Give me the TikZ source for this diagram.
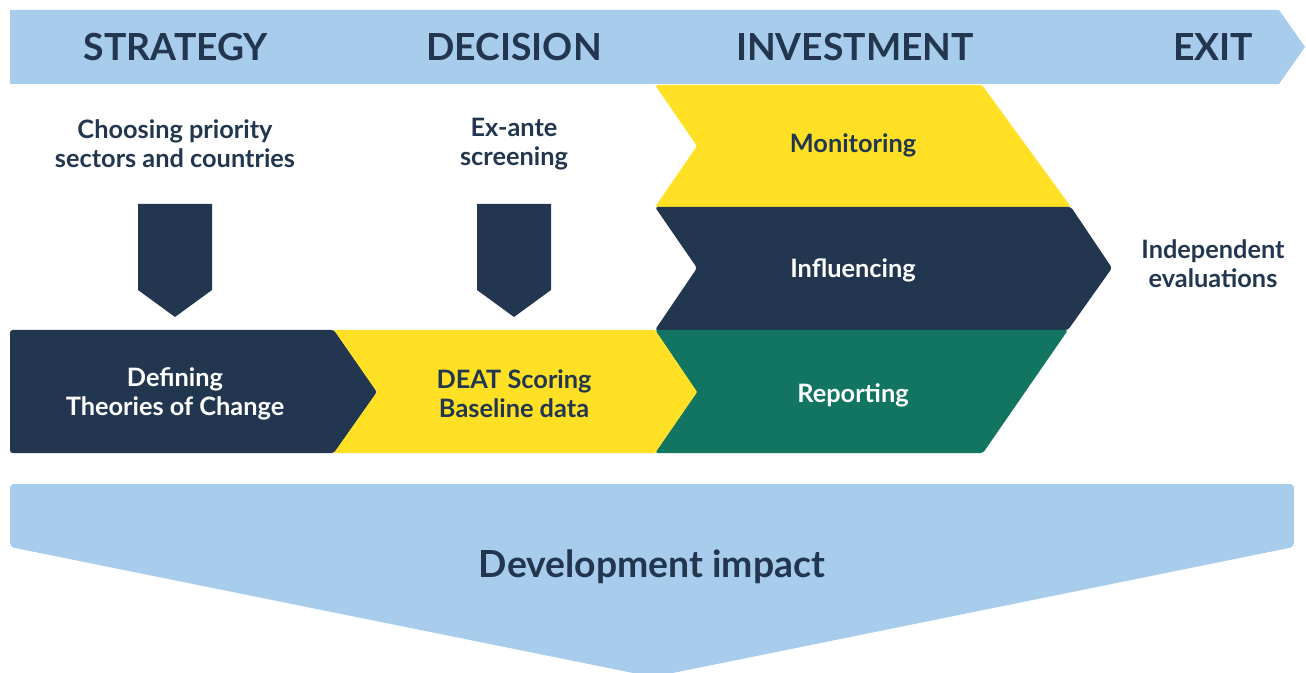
\documentclass[tikz,border=0pt]{standalone}
\usepackage{fontspec}
\setmainfont{Lato}
\definecolor{skyband}{HTML}{A8CCEC}
\definecolor{navy}{HTML}{22374F}
\definecolor{gold}{HTML}{FFE024}
\definecolor{teal}{HTML}{117562}

\begin{document}
\begin{tikzpicture}[x=0.75pt,y=-0.75pt,
	phasetext/.style={text=navy,font=\bfseries\fontsize{28}{32}\selectfont},
	darktext/.style={text=navy,align=center,font=\bfseries\fontsize{19}{21.75}\selectfont},
	lighttext/.style={text=white,align=center,font=\bfseries\fontsize{19}{21.75}\selectfont}]
		\clip (0,0) rectangle (1306,673);
		% phases banner
		\fill[skyband] (10,10) -- (1279,10) -- (1305,47) -- (1279,84) -- (10,84) -- cycle;
		\node[phasetext] (strategy) at (176,47) {STRATEGY};
		\node[phasetext] (decision) at (514,47) {DECISION};
		\node[phasetext] (investment) at (855,47) {INVESTMENT};
		\node[phasetext] (exit) at (1213,47) {EXIT};
		% investment chevrons
		\fill[gold, rounded corners=2] (655,85) -- (982,85) -- (1071,207)
			-- (655,207) -- (697,146) -- cycle;
		\fill[navy, rounded corners=2] (655,207) -- (1071,207) -- (1112,268)
			-- (1068,330) -- (655,330) -- (697,268) -- cycle;
		\fill[teal, rounded corners=2] (655,330) -- (1068,330) -- (983,453)
			-- (655,453) -- (697,392) -- cycle;
		% strategy and decision
		\fill[navy, rounded corners=2] (10,330) -- (334,330) -- (377,392)
			-- (334,453) -- (10,453) -- cycle;
		\fill[gold] (334,330) -- (655,330) -- (697,392)
			-- (655,453) -- (334,453) -- (377,392) -- cycle;
		\fill[navy] (138,204) -- (212,204) -- (212,290) -- (175,317) -- (138,290) -- cycle;
		\fill[navy] (477,204) -- (551,204) -- (551,290) -- (514,317) -- (477,290) -- cycle;
		% impact
		\fill[skyband, rounded corners=3] (10,484) -- (1294,484) -- (1294,547)
			-- (653,677) -- (10,547) -- cycle;
		\node[darktext] (choosing) at (175,144) {Choosing priority\\sectors and countries};
		\node[darktext] (exante) at (514,144) {Ex-ante\\screening};
		\node[darktext] (monitoring) at (853,145) {Monitoring};
		\node[lighttext] (influencing) at (853,270) {Influencing};
		\node[lighttext] (reporting) at (853,395) {Reporting};
		\node[lighttext] (defining) at (175,394) {Defining\\Theories of Change};
		\node[darktext] (scoring) at (514,394) {DEAT Scoring\\Baseline data};
		\node[darktext] (evaluations) at (1213,264) {Independent\\evaluations};
		\node[text=navy,font=\bfseries\fontsize{28}{32}\selectfont] (impact) at (652,567) {Development impact};
	\end{tikzpicture}
\end{document}
